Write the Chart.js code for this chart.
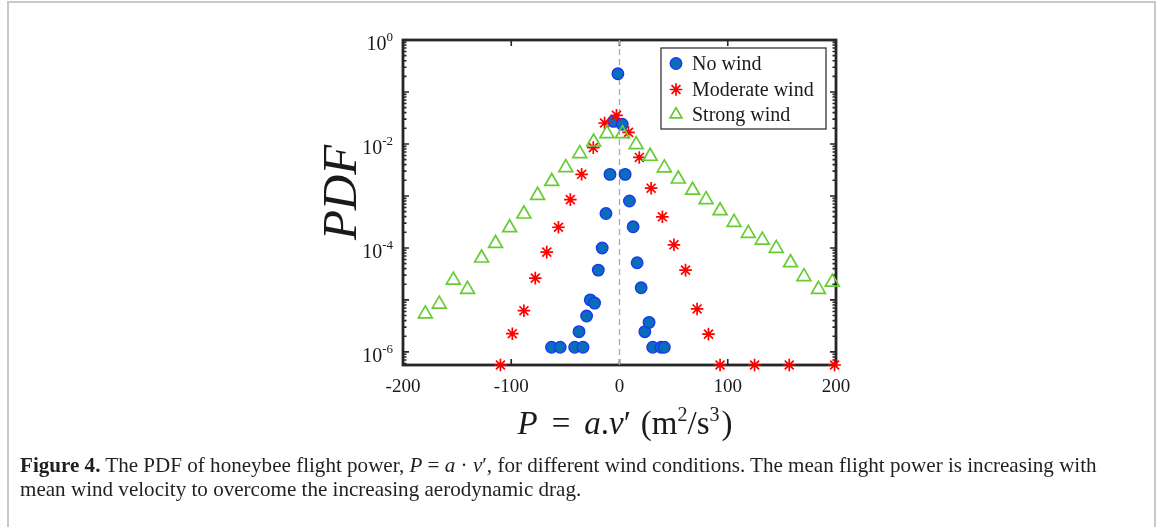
<!DOCTYPE html>
<html>
<head>
<meta charset="utf-8">
<script src="https://cdn.jsdelivr.net/npm/chart.js@4.4.1/dist/chart.umd.min.js"></script>
<style>
  html, body { margin:0; padding:0; background:#ffffff; }
  body { width:1167px; height:527px; position:relative; overflow:hidden; }
  #frame { position:absolute; left:7px; top:1px; width:1149px; height:620px; border:2px solid #c8c8c8; box-sizing:border-box; }
  #c { position:absolute; left:0; top:0; }
  #cap { position:absolute; left:20px; top:453px; font-family:'Liberation Serif', serif; font-size:19px; line-height:24px; color:#231f20; white-space:nowrap; }
</style>
</head>
<body>
<div id="frame"></div>
<canvas id="c" width="1167" height="527"></canvas>
<div id="cap"><span id="l1"><b>Figure 4.</b> The PDF of honeybee flight power, <i>P</i> = <i>a</i> · <i>v</i>′, for different wind conditions. The mean flight power is increasing with</span><br>mean wind velocity to overcome the increasing aerodynamic drag.</div>
<script>
// ---- data ----
const noWindP   = [-62.8, -54.8, -41.4, -37.4, -33.7, -30.4, -27, -23, -19.6, -16, -12.5, -8.8, -5.5, -1.5, 2.5, 5.2, 9.2, 12.6, 16.3, 20, 23.4, 27.3, 30.7, 38.4, 41.4];
const noWindPDF = [1.23e-6, 1.23e-6, 1.23e-6, 2.45e-6, 1.23e-6, 4.9e-6, 1.0e-5, 8.7e-6, 3.75e-5, 1.0e-4, 4.6e-4, 2.6e-3, 0.0272, 0.224, 0.0239, 2.6e-3, 8.0e-4, 2.55e-4, 5.2e-5, 1.71e-5, 2.45e-6, 3.7e-6, 1.23e-6, 1.23e-6, 1.23e-6];

const moderateP   = [-110, -99, -88.3, -77.8, -67.2, -56.4, -45.4, -35, -24.2, -13.8, -2.8, 8.3, 18.3, 29.2, 39.6, 50.3, 61, 71.7, 82.2, 92.9, 124.8, 156.8, 198.7];
const moderatePDF = [5.6e-7, 2.24e-6, 6.2e-6, 2.63e-5, 8.3e-5, 2.5e-4, 8.5e-4, 2.61e-3, 8.5e-3, 0.0253, 0.0355, 0.0167, 0.0055, 1.41e-3, 3.97e-4, 1.15e-4, 3.75e-5, 6.7e-6, 2.2e-6, 5.6e-7, 5.6e-7, 5.6e-7, 5.6e-7];

const strongP   = [-179.4, -166.5, -153.5, -140.4, -127.4, -114.5, -101.5, -88.3, -75.7, -62.6, -49.6, -36.7, -23.9, -11.6, 2.8, 15.4, 28.3, 41.4, 54.3, 67.5, 80, 92.9, 105.8, 119, 131.9, 144.8, 158, 170.4, 183.8, 196.6];
const strongPDF = [5.4e-6, 8.3e-6, 2.4e-5, 1.6e-5, 6.4e-5, 1.22e-4, 2.45e-4, 4.5e-4, 1.03e-3, 1.9e-3, 3.5e-3, 6.5e-3, 0.0109, 0.0158, 0.0158, 0.0097, 5.8e-3, 3.46e-3, 2.12e-3, 1.29e-3, 8.5e-4, 5.2e-4, 3.1e-4, 1.9e-4, 1.41e-4, 9.8e-5, 5.2e-5, 2.8e-5, 1.6e-5, 2.2e-5];

const seriesNames = ['No wind', 'Moderate wind', 'Strong wind'];
const xTicks = [-200, -100, 0, 100, 200];
const yLabelExps = [0, -2, -4, -6];
const xMin = -200, xMax = 200, yMin = 5.6e-7, yMax = 1;
const zeroLineX = [0, 0];
const zeroLineY = [yMin, yMax];

// ---- caption fit ----
(function(){
  const cap = document.getElementById('cap');
  const l1 = document.getElementById('l1');
  const w = l1.getBoundingClientRect().width;
  cap.style.fontSize = (19 * 1077 / w).toFixed(2) + 'px';
})();

const pts = (xs, ys) => xs.map((x, i) => ({x: x, y: ys[i]}));
const SERIF = "'Liberation Serif', 'Times New Roman', serif";

const deco = {
  id: 'deco',
  beforeDatasetsDraw(chart) {
    const {ctx, chartArea: a, scales: {x, y}} = chart;
    ctx.save();
    ctx.strokeStyle = '#262626';
    ctx.lineWidth = 1.6;
    ctx.beginPath();
    xTicks.forEach(v => {
      const px = x.getPixelForValue(v);
      ctx.moveTo(px, a.bottom); ctx.lineTo(px, a.bottom - 6);
      ctx.moveTo(px, a.top); ctx.lineTo(px, a.top + 6);
    });
    for (let k = -7; k <= 0; k++) {
      for (let m = 1; m <= 9; m++) {
        const v = m * Math.pow(10, k);
        if (v < yMin * 0.999 || v > yMax * 1.0001) continue;
        const py = y.getPixelForValue(v);
        const L = (m === 1) ? 6 : 3.5;
        ctx.moveTo(a.left, py); ctx.lineTo(a.left + L, py);
        ctx.moveTo(a.right, py); ctx.lineTo(a.right - L, py);
      }
    }
    ctx.stroke();
    ctx.lineWidth = 2.8;
    ctx.strokeRect(a.left, a.top, a.right - a.left, a.bottom - a.top);
    ctx.restore();
  },
  afterDraw(chart) {
    const {ctx, chartArea: a, scales: {x, y}} = chart;
    ctx.save();
    ctx.fillStyle = '#1a1a1a';
    // x tick labels
    ctx.font = '19px ' + SERIF;
    ctx.textAlign = 'center';
    ctx.textBaseline = 'alphabetic';
    xTicks.forEach(v => ctx.fillText(String(v), x.getPixelForValue(v), a.bottom + 27));
    // y tick labels 10^e
    yLabelExps.forEach(e => {
      const py = y.getPixelForValue(Math.pow(10, e));
      const sup = e === 0 ? '0' : '-' + Math.abs(e);
      ctx.font = '13px ' + SERIF;
      const sw = ctx.measureText(sup).width;
      const right = a.left - 10;
      ctx.textAlign = 'left';
      ctx.fillText(sup, right - sw, py + 1);
      ctx.font = '20px ' + SERIF;
      ctx.textAlign = 'right';
      ctx.fillText('10', right - sw, py + 10);
    });
    // y title
    ctx.save();
    ctx.translate(356, (a.top + a.bottom) / 2 - 10);
    ctx.rotate(-Math.PI / 2);
    ctx.font = 'italic 49px ' + SERIF;
    ctx.textAlign = 'center';
    ctx.textBaseline = 'alphabetic';
    ctx.fillText('PDF', 0, 0);
    ctx.restore();
    // x title: P = a.v' (m^2/s^3)
    const fs = 33;
    const segs = [
      {t: 'P', f: 'italic ' + fs + 'px ' + SERIF, dy: 0},
      {gap: 14},
      {t: '=', f: fs + 'px ' + SERIF, dy: 0},
      {gap: 14},
      {t: 'a', f: 'italic ' + fs + 'px ' + SERIF, dy: 0},
      {t: '.', f: fs + 'px ' + SERIF, dy: 0},
      {t: 'v', f: 'italic ' + fs + 'px ' + SERIF, dy: 0},
      {t: '′', f: fs + 'px ' + SERIF, dy: 0},
      {gap: 10},
      {t: '(m', f: fs + 'px ' + SERIF, dy: 0},
      {t: '2', f: '20px ' + SERIF, dy: -13},
      {t: '/s', f: fs + 'px ' + SERIF, dy: 0},
      {t: '3', f: '20px ' + SERIF, dy: -13},
      {gap: 2},
      {t: ')', f: fs + 'px ' + SERIF, dy: 0}
    ];
    let total = 0;
    segs.forEach(s => { if (s.gap) { s.w = s.gap; } else { ctx.font = s.f; s.w = ctx.measureText(s.t).width; } total += s.w; });
    let cx = 625 - total / 2;
    ctx.textAlign = 'left';
    segs.forEach(s => { if (!s.gap) { ctx.font = s.f; ctx.fillText(s.t, cx, 434 + s.dy); } cx += s.w; });
    // legend
    const lx = 661, ly = 48, lw = 165, lh = 81;
    ctx.fillStyle = '#ffffff';
    ctx.fillRect(lx, ly, lw, lh);
    ctx.strokeStyle = '#262626';
    ctx.lineWidth = 1.2;
    ctx.strokeRect(lx, ly, lw, lh);
    const rows = [63.5, 89.5, 114.5];
    chart.data.datasets.slice(0, 3).forEach((ds, i) => {
      const mx = 676, my = rows[i];
      ctx.save();
      ctx.strokeStyle = ds.borderColor;
      ctx.fillStyle = ds.backgroundColor;
      ctx.lineWidth = ds.borderWidth;
      const r = ds.pointRadius;
      ctx.beginPath();
      if (ds.pointStyle === 'circle') {
        ctx.arc(mx, my, r, 0, Math.PI * 2); ctx.fill(); ctx.stroke();
      } else if (ds.pointStyle === 'star') {
        for (let k = 0; k < 4; k++) {
          const ang = k * Math.PI / 4;
          ctx.moveTo(mx + Math.cos(ang) * r, my + Math.sin(ang) * r);
          ctx.lineTo(mx - Math.cos(ang) * r, my - Math.sin(ang) * r);
        }
        ctx.stroke();
      } else {
        const rr = r * 0.85;
        ctx.moveTo(mx, my - rr);
        ctx.lineTo(mx + Math.sin(Math.PI / 3) * rr, my + rr / 2);
        ctx.lineTo(mx - Math.sin(Math.PI / 3) * rr, my + rr / 2);
        ctx.closePath(); ctx.stroke();
      }
      ctx.restore();
      ctx.fillStyle = '#1a1a1a';
      ctx.font = '20px ' + SERIF;
      ctx.textAlign = 'left';
      ctx.textBaseline = 'middle';
      ctx.fillText(ds.label, 692, my + 1);
    });
    ctx.restore();
  }
};

new Chart(document.getElementById('c'), {
  type: 'scatter',
  data: {
    datasets: [
      {label: seriesNames[0], data: pts(noWindP, noWindPDF), pointStyle: 'circle', pointRadius: 5.8,
       backgroundColor: '#0a6cbb', borderColor: '#1536f2', borderWidth: 1.3, order: 3, clip: false},
      {label: seriesNames[1], data: pts(moderateP, moderatePDF), pointStyle: 'star', pointRadius: 6.3,
       backgroundColor: '#ff0000', borderColor: '#ff0000', borderWidth: 1.7, order: 2, clip: false},
      {label: seriesNames[2], data: pts(strongP, strongPDF), pointStyle: 'triangle', pointRadius: 8,
       backgroundColor: 'rgba(0,0,0,0)', borderColor: '#66cc33', borderWidth: 1.7, order: 1, clip: false},
      {type: 'line', label: 'zero', data: pts(zeroLineX, zeroLineY), showLine: true, pointRadius: 0,
       borderColor: '#a8a8a8', borderWidth: 1.3, borderDash: [6, 4], order: 4, clip: false}
    ]
  },
  options: {
    responsive: false, animation: false, devicePixelRatio: 1,
    layout: {padding: {left: 403, right: 331, top: 40, bottom: 162}},
    scales: {
      x: {type: 'linear', min: xMin, max: xMax, display: false},
      y: {type: 'logarithmic', min: yMin, max: yMax, display: false}
    },
    plugins: {legend: {display: false}, tooltip: {enabled: false}}
  },
  plugins: [deco]
});
</script>
</body>
</html>
